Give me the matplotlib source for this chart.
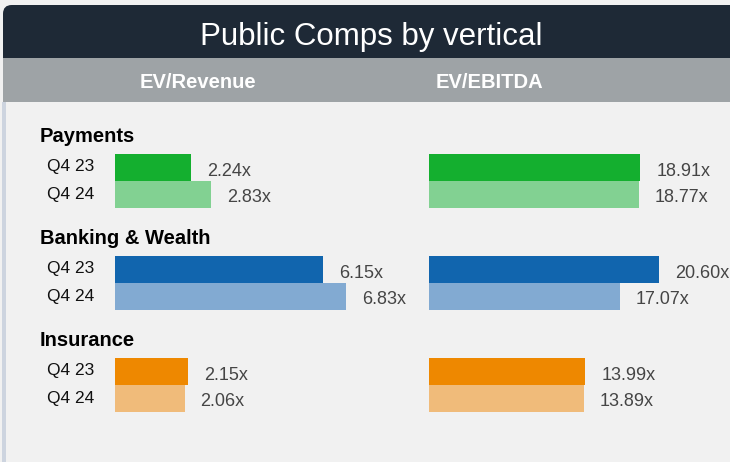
import matplotlib
matplotlib.use("Agg")
import matplotlib.pyplot as plt
from matplotlib.patches import FancyBboxPatch, Rectangle
from matplotlib.transforms import blended_transform_factory

plt.rcParams['font.family'] = ['Liberation Sans', 'DejaVu Sans']

# data
verticals = ["Payments", "Banking & Wealth", "Insurance"]
periods = ["Q4 23", "Q4 24"]
ev_revenue_q423 = [2.24, 6.15, 2.15]
ev_revenue_q424 = [2.83, 6.83, 2.06]
ev_ebitda_q423 = [18.91, 20.60, 13.99]
ev_ebitda_q424 = [18.77, 17.07, 13.89]
metric_titles = ["EV/Revenue", "EV/EBITDA"]

dark_cols = ["#14af2f", "#1165ae", "#ee8800"]
light_cols = ["#82d192", "#82aad2", "#f0bb7a"]

W, H = 730, 462
fig = plt.figure(figsize=(W / 100, H / 100), dpi=100)
fig.patch.set_facecolor("#f1f1f1")

def fx(px):
    return px / W

def fy(py):
    return 1 - py / H

# header bands (dark one runs under the gray one so only its top corner is round)
fig.patches.append(FancyBboxPatch((fx(3), fy(80)), fx(740) - fx(3), fy(5) - fy(80),
                                  boxstyle="round,pad=0,rounding_size=0.012",
                                  transform=fig.transFigure, fc="#1e2936", ec="none",
                                  mutation_aspect=W / H))
fig.patches.append(Rectangle((fx(3), fy(102)), 1, fy(58) - fy(102),
                             transform=fig.transFigure, fc="#9ea3a6", ec="none"))
fig.patches.append(Rectangle((fx(2), 0), fx(4), fy(102),
                             transform=fig.transFigure, fc="#cdd4df", ec="none"))

fig.text(fx(371), fy(45), "Public Comps by vertical", color="white",
         fontsize=22.5, ha="center", va="baseline")
fig.text(fx(198), fy(88), metric_titles[0], color="white", fontsize=14.5,
         fontweight="bold", ha="center", va="baseline")
fig.text(fx(489), fy(88), metric_titles[1], color="white", fontsize=14.5,
         fontweight="bold", ha="center", va="baseline")

# plotting area, y unit = group spacing (102 px)
top_px, unit = 102, 102.0
ytop = -79 / unit
ybot = ytop + (H - top_px) / unit
bh = 27 / unit

ax1 = fig.add_axes([fx(115), 0, fx(365) - fx(115), fy(top_px)])
ax2 = fig.add_axes([fx(429), 0, fx(730) - fx(429), fy(top_px)])
ax1.set_xlim(0, 250 / 33.8)
ax2.set_xlim(0, 301 / 11.17)

for ax, q23, q24 in [(ax1, ev_revenue_q423, ev_revenue_q424),
                     (ax2, ev_ebitda_q423, ev_ebitda_q424)]:
    ax.set_ylim(ybot, ytop)
    ax.axis("off")
    ax.patch.set_alpha(0)
    for g in range(len(verticals)):
        for vals, cols, off in [(q23, dark_cols, -bh / 2), (q24, light_cols, bh / 2)]:
            ax.barh(g + off, vals[g], height=bh, color=cols[g], linewidth=0)
            ax.annotate(f"{vals[g]:.2f}x", xy=(vals[g], g + off + 8 / unit),
                        xytext=(11.5, 0), textcoords="offset points",
                        fontsize=13, color="#454545", va="baseline", ha="left")

tr = blended_transform_factory(fig.transFigure, ax1.transData)
for g, name in enumerate(verticals):
    ax1.text(fx(40), g - 39 / unit, name, transform=tr, fontsize=14.5,
             fontweight="bold", color="black", va="baseline", ha="left")
    for off, p in zip([-bh / 2, bh / 2], periods):
        ax1.text(fx(47), g + off + 4 / unit, p, transform=tr, fontsize=12.5,
                 color="#111111", va="baseline", ha="left")

fig.savefig("out.png", dpi=100, facecolor=fig.get_facecolor())
